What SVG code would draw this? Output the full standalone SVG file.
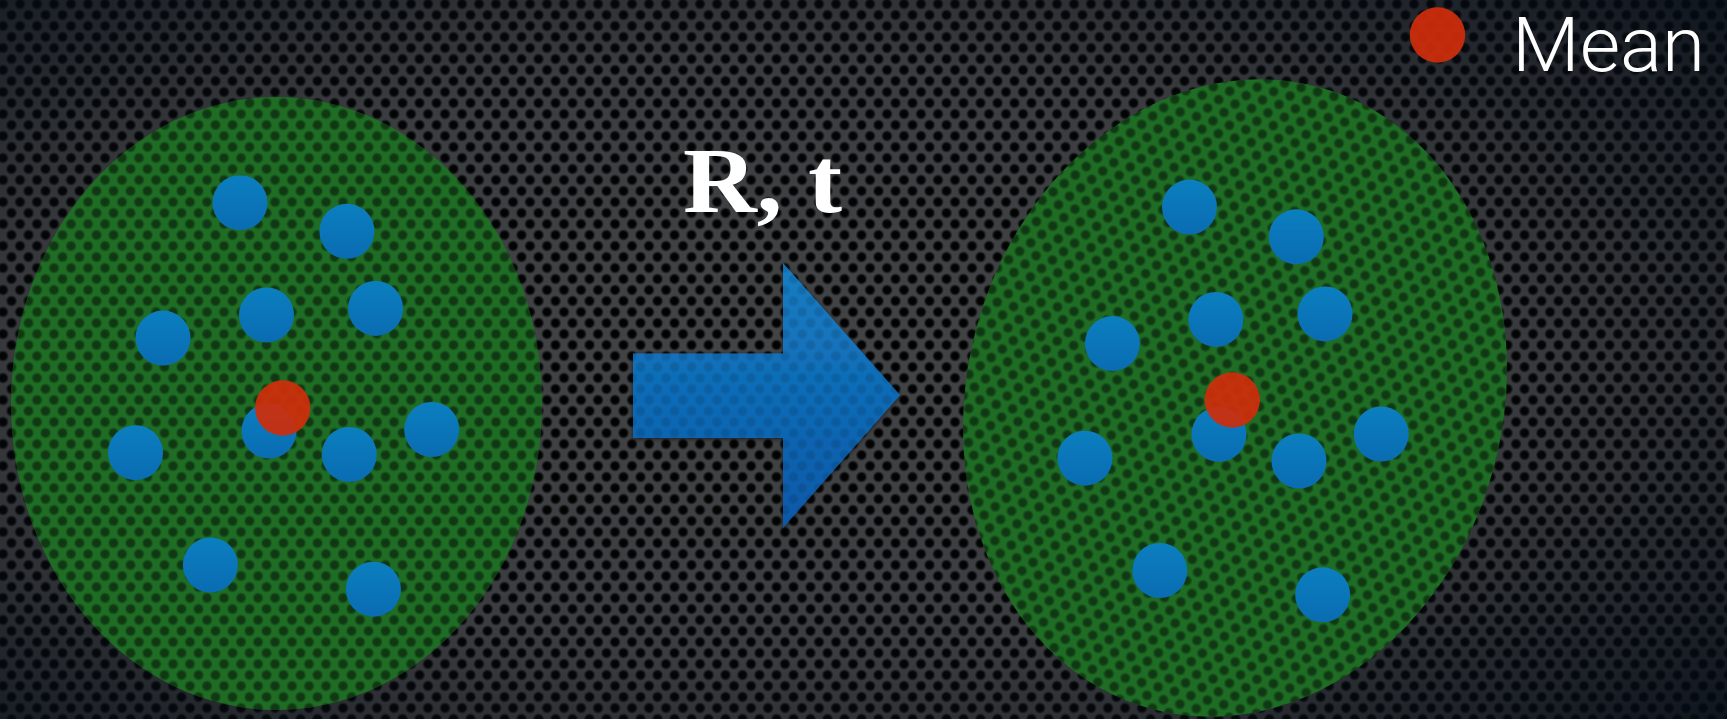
<svg xmlns="http://www.w3.org/2000/svg" width="1727" height="719" viewBox="0 0 1727 719">
  <defs>
    <radialGradient id="holeGrad">
      <stop offset="0" stop-color="#000" stop-opacity="1"/>
      <stop offset="0.55" stop-color="#000" stop-opacity="0.95"/>
      <stop offset="1" stop-color="#000" stop-opacity="0"/>
    </radialGradient>
    <pattern id="holes" patternUnits="userSpaceOnUse" x="3" y="4" width="17" height="22">
      <circle cx="0" cy="0" r="6" fill="url(#holeGrad)"/>
      <circle cx="17" cy="0" r="6" fill="url(#holeGrad)"/>
      <circle cx="8.5" cy="11" r="6" fill="url(#holeGrad)"/>
      <circle cx="0" cy="22" r="6" fill="url(#holeGrad)"/>
      <circle cx="17" cy="22" r="6" fill="url(#holeGrad)"/>
    </pattern>
    <radialGradient id="vignette" cx="0.45" cy="0.5" r="0.75">
      <stop offset="0" stop-color="#0a1018" stop-opacity="0"/>
      <stop offset="0.55" stop-color="#0a1018" stop-opacity="0.15"/>
      <stop offset="1" stop-color="#050c16" stop-opacity="0.85"/>
    </radialGradient>
    <linearGradient id="arrowGrad" x1="0" y1="0" x2="0" y2="1">
      <stop offset="0" stop-color="#167ec4"/>
      <stop offset="1" stop-color="#0a58a8"/>
    </linearGradient>
    <linearGradient id="blueGrad" x1="0" y1="0" x2="0" y2="1">
      <stop offset="0" stop-color="#0b7fbf"/>
      <stop offset="1" stop-color="#0a6cb2"/>
    </linearGradient>
    <filter id="shadow" x="-10%" y="-10%" width="120%" height="120%">
      <feGaussianBlur in="SourceAlpha" stdDeviation="2"/>
      <feOffset dx="0" dy="1" result="b"/>
      <feComponentTransfer><feFuncA type="linear" slope="0.6"/></feComponentTransfer>
      <feMerge><feMergeNode/><feMergeNode in="SourceGraphic"/></feMerge>
    </filter>
    <style>
      .blue { fill: url(#blueGrad); }
      .red { fill: #cf2d0b; fill-opacity: 0.93; }
      .ell { fill: #1f6d25; }
      .ellHoles { fill: url(#holes); opacity: 0.5; }
      .label { fill: #ffffff; }
    </style>
  </defs>

  <!-- background -->
  <rect width="1727" height="719" fill="#434446"/>
  <rect width="1727" height="719" fill="url(#holes)"/>
  <rect width="1727" height="719" fill="url(#vignette)"/>

  <!-- left cloud -->
  <g id="cloud-left">
    <ellipse class="ell" cx="276.5" cy="403.5" rx="265.5" ry="306.5"/>
    <ellipse class="ellHoles" cx="276.5" cy="403.5" rx="265.5" ry="306.5"/>
    <g id="points-left">
      <circle class="blue" cx="240" cy="202.7" r="27.5"/>
      <circle class="blue" cx="346.9" cy="231.3" r="27.5"/>
      <circle class="blue" cx="266.5" cy="315" r="27.5"/>
      <circle class="blue" cx="375.6" cy="308.4" r="27.5"/>
      <circle class="blue" cx="163" cy="338.1" r="27.5"/>
      <circle class="blue" cx="269" cy="431" r="27.5"/>
      <circle class="blue" cx="349.3" cy="454.5" r="27.5"/>
      <circle class="blue" cx="431.7" cy="429.5" r="27.5"/>
      <circle class="blue" cx="135.5" cy="452.7" r="27.5"/>
      <circle class="blue" cx="210.4" cy="565" r="27.5"/>
      <circle class="blue" cx="373.4" cy="589.2" r="27.5"/>
    </g>
    <circle id="mean-left" class="red" cx="282.7" cy="408" r="27.7"/>
  </g>

  <!-- right cloud -->
  <g id="cloud-right">
    <ellipse class="ell" cx="1235" cy="398" rx="268" ry="322" transform="rotate(15 1235 398)"/>
    <ellipse class="ellHoles" cx="1235" cy="398" rx="268" ry="322" transform="rotate(15 1235 398)"/>
    <g id="points-right">
      <circle class="blue" cx="1189.5" cy="207.1" r="27.5"/>
      <circle class="blue" cx="1296.3" cy="236.8" r="27.5"/>
      <circle class="blue" cx="1215.9" cy="319.4" r="27.5"/>
      <circle class="blue" cx="1325" cy="313.9" r="27.5"/>
      <circle class="blue" cx="1112.4" cy="343.6" r="27.5"/>
      <circle class="blue" cx="1219" cy="434.3" r="27.5"/>
      <circle class="blue" cx="1299" cy="461" r="27.5"/>
      <circle class="blue" cx="1381.2" cy="434" r="27.5"/>
      <circle class="blue" cx="1084.9" cy="458.2" r="27.5"/>
      <circle class="blue" cx="1159.8" cy="570.5" r="27.5"/>
      <circle class="blue" cx="1322.7" cy="594.8" r="27.5"/>
    </g>
    <circle id="mean-right" class="red" cx="1232.3" cy="400" r="27.7"/>
  </g>

  <!-- transformation arrow -->
  <g id="connectors">
    <polygon id="arrow" points="633,353.5 783,353.5 783,263 900,395 783,528 783,438 633,438" fill="url(#arrowGrad)" filter="url(#shadow)"/>
    <polygon points="633,353.5 783,353.5 783,263 900,395 783,528 783,438 633,438" fill="url(#holes)" opacity="0.12"/>
  </g>

  <g id="label-Rt">
    <text class="label" x="683" y="212" font-family="'Liberation Serif', 'DejaVu Serif', serif" font-weight="bold" font-size="94" textLength="159" lengthAdjust="spacingAndGlyphs">R, t</text>
  </g>

  <!-- legend -->
  <g id="legend">
    <circle class="red" cx="1437.5" cy="35" r="27.7"/>
    <text class="label" x="1512" y="71" font-family="Roboto, 'Liberation Sans', sans-serif" font-weight="300" font-size="76" textLength="193" lengthAdjust="spacingAndGlyphs">Mean</text>
  </g>
</svg>
